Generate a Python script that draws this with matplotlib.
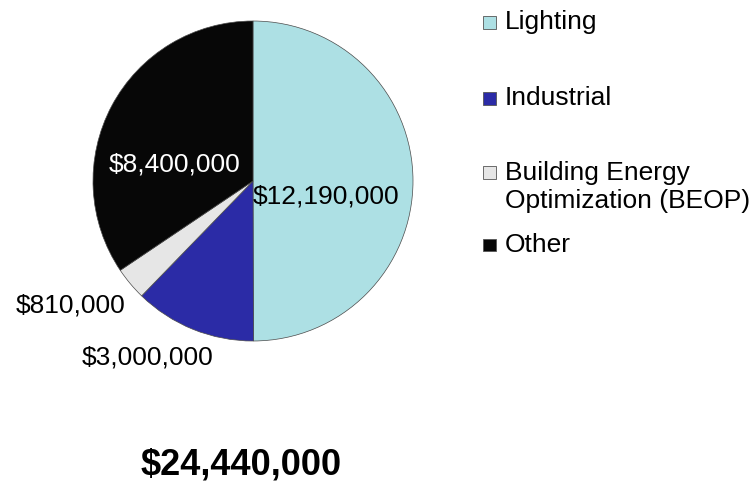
import matplotlib.pyplot as plt
from matplotlib.patches import Rectangle

plt.rcParams['font.family'] = ['Liberation Sans', 'DejaVu Sans']

categories = ['Lighting', 'Industrial', 'Building Energy\nOptimization (BEOP)', 'Other']
values = [12190000, 3000000, 810000, 8400000]
value_labels = ['$12,190,000', '$3,000,000', '$810,000', '$8,400,000']
total_label = '$24,440,000'
colors = ['#ADE0E4', '#2B2BA6', '#E6E6E6', '#070707']

W, H = 754, 484
fig = plt.figure(figsize=(W / 100, H / 100), dpi=100)

# pie centred at about (253, 181) px, radius ~160 px
cx, cy, r = 253, 181, 160 * 1.03
ax = fig.add_axes([(cx - r) / W, (H - cy - r) / H, 2 * r / W, 2 * r / H])
wedges, _ = ax.pie(values, colors=colors, startangle=90, counterclock=False,
                   radius=1.0, wedgeprops=dict(edgecolor='#4a4a4a', linewidth=0.5))
ax.set_xlim(-1.03, 1.03)
ax.set_ylim(-1.03, 1.03)
ax.set_aspect('equal')
ax.axis('off')

# data labels (Excel-style placement)
fs = 19
ax.text(0.0, -0.094, value_labels[0], ha='left', va='center', fontsize=fs, color='black')
ax.text(-0.66, -1.10, value_labels[1], ha='center', va='center', fontsize=fs, color='black')
ax.text(-1.14, -0.775, value_labels[2], ha='center', va='center', fontsize=fs, color='black')
ax.text(-0.49, 0.106, value_labels[3], ha='center', va='center', fontsize=fs, color='white')

# legend drawn by hand to mimic Excel spacing
legend_y = [22, 98, 172, 245]
for lab, col, y in zip(categories, colors, legend_y):
    fig.patches.append(Rectangle((483 / W, 1 - (y + 6.5) / H), 13 / W, 13 / H,
                                 transform=fig.transFigure, facecolor=col,
                                 edgecolor='#555555', linewidth=0.6))
    if '\n' in lab:
        fig.text(505 / W, 1 - (y - 11) / H, lab, ha='left', va='top',
                 fontsize=fs, linespacing=1.2)
    else:
        fig.text(505 / W, 1 - y / H, lab, ha='left', va='center', fontsize=fs)

fig.text(241 / W, 1 - 465 / H, total_label, ha='center', va='center',
         fontsize=26, fontweight='bold')

fig.savefig('out.png', dpi=100)
